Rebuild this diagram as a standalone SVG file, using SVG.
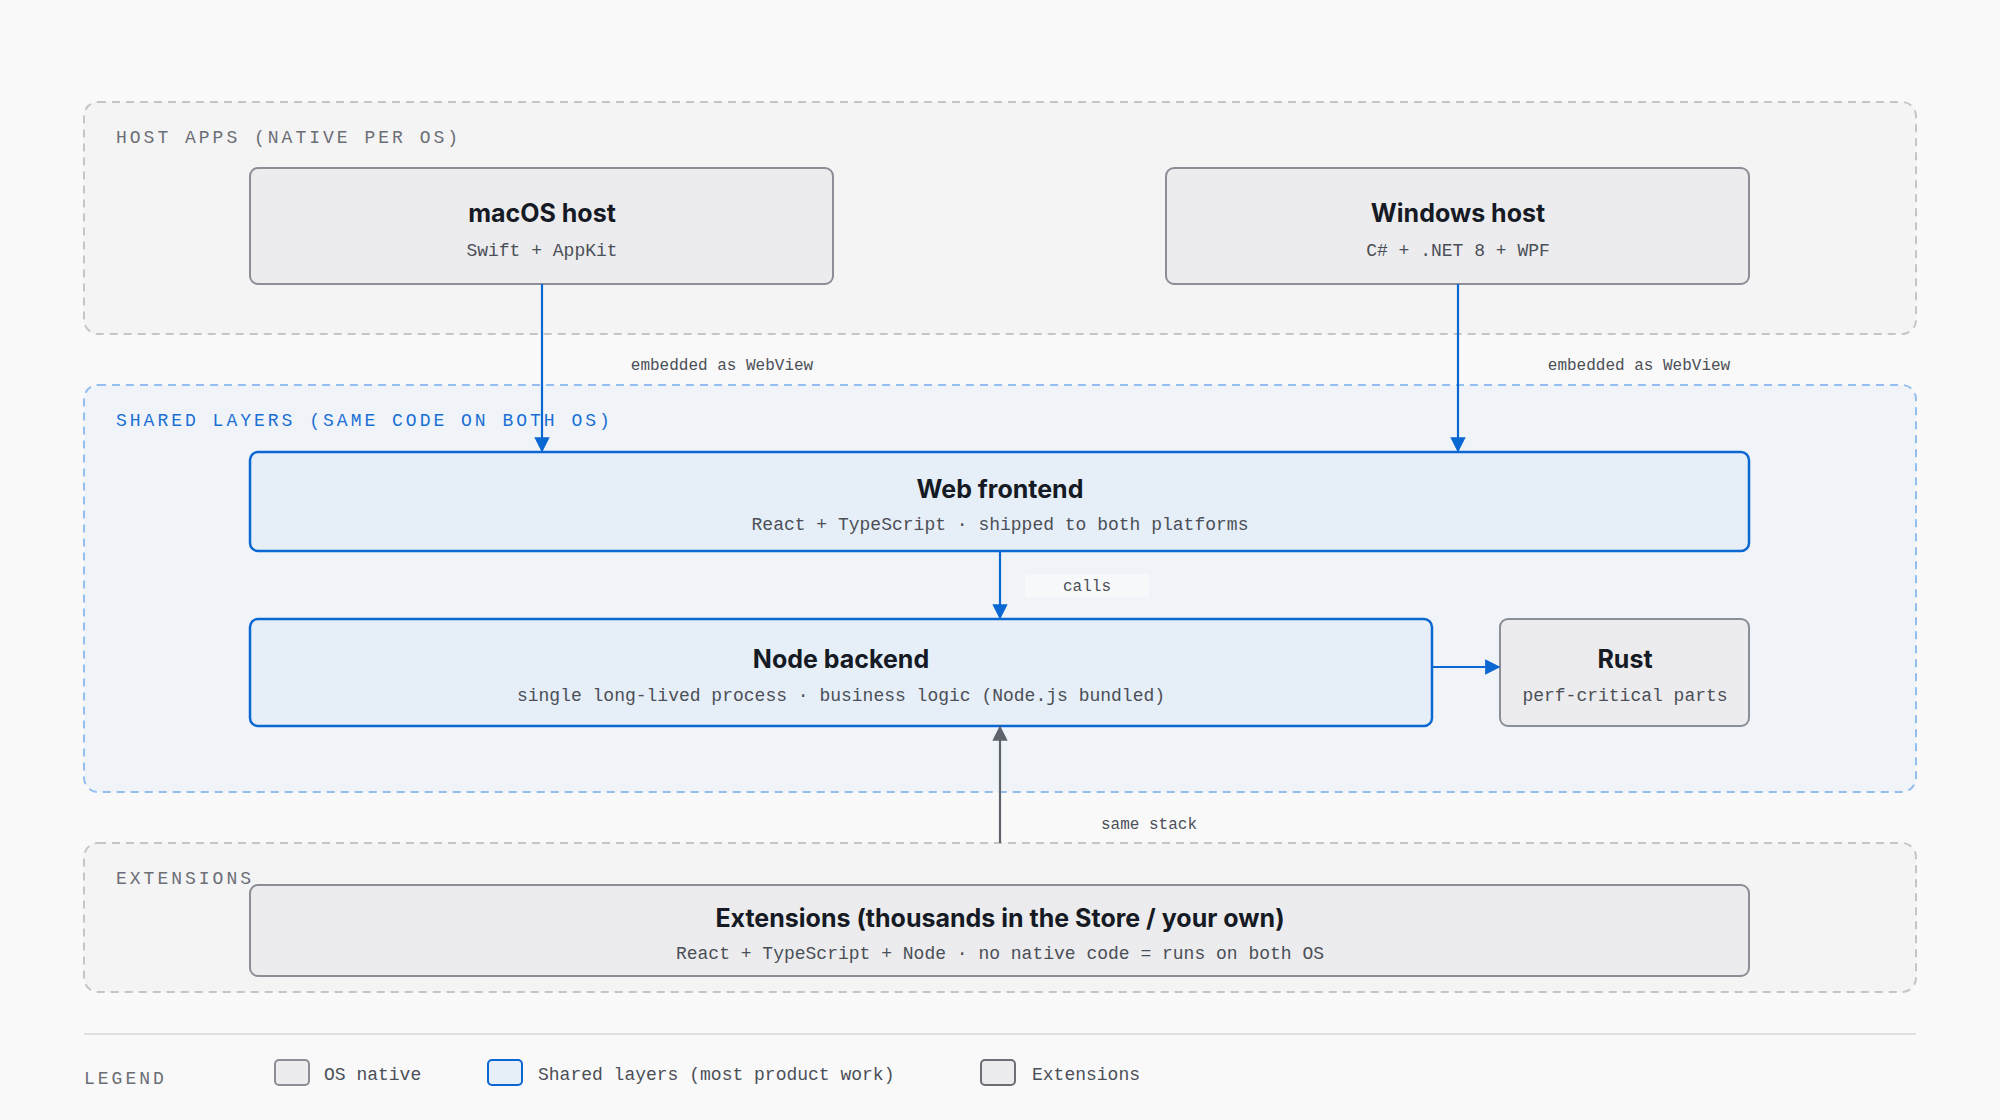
<svg xmlns="http://www.w3.org/2000/svg" width="2000" height="1120" viewBox="0 0 2000 1120">
<style>
.grp{fill:#f4f4f5;stroke:#c4c5c9;stroke-width:2;stroke-dasharray:8 6}
.grpb{fill:#f0f4f9;stroke:#94bdf0;stroke-width:2;stroke-dasharray:8 6}
.gl{font-family:"Liberation Mono",monospace;font-size:18px;letter-spacing:3px;fill:#6b6e75}
.gb{fill:#1a6fd4}
.nb{fill:#ececee;stroke:#8b8e96;stroke-width:2}
.bb{fill:#e6eef7;stroke:#0b67d1;stroke-width:2.5}
.t{font-family:"Inter","Liberation Sans",sans-serif;font-size:25px;font-weight:700;fill:#151a24;text-anchor:middle}
.s{font-family:"Liberation Mono",monospace;font-size:18px;fill:#4b4f57;text-anchor:middle}
.el{font-family:"Liberation Mono",monospace;font-size:16px;fill:#4b4f57;text-anchor:middle}
.cb{stroke:#0b67d1;stroke-width:2.2;fill:none}
.cg{stroke:#5f636b;stroke-width:2.2;fill:none}
.lg{font-family:"Liberation Mono",monospace;font-size:18px;fill:#4b4f57}
</style>
<defs>
<marker id="ab" viewBox="0 0 10 10" refX="9" refY="5" markerWidth="7" markerHeight="7" orient="auto"><path d="M0,0L10,5L0,10z" fill="#0b67d1"/></marker>
<marker id="ag" viewBox="0 0 10 10" refX="9" refY="5" markerWidth="7" markerHeight="7" orient="auto"><path d="M0,0L10,5L0,10z" fill="#5f636b"/></marker>
</defs>
<rect width="2000" height="1120" fill="#f9f9f9"/>
<g id="host-apps"><rect class="grp" x="84" y="102" width="1832" height="232" rx="14"/><text class="gl" x="116" y="143">HOST APPS (NATIVE PER OS)</text></g>
<g id="shared"><rect class="grpb" x="84" y="385" width="1832" height="407" rx="14"/><text class="gl gb" x="116" y="426">SHARED LAYERS (SAME CODE ON BOTH OS)</text></g>
<g id="extensions-group"><rect class="grp" x="84" y="843" width="1832" height="149" rx="14"/><text class="gl" x="116" y="884">EXTENSIONS</text></g>
<g id="macos"><rect class="nb" x="250" y="168" width="583" height="116" rx="8"/><text class="t" x="542" y="222">macOS host</text><text class="s" x="542" y="256">Swift + AppKit</text></g>
<g id="windows"><rect class="nb" x="1166" y="168" width="583" height="116" rx="8"/><text class="t" x="1458" y="222">Windows host</text><text class="s" x="1458" y="256">C# + .NET 8 + WPF</text></g>
<g id="web"><rect class="bb" x="250" y="452" width="1499" height="99" rx="8"/><text class="t" x="1000" y="498">Web frontend</text><text class="s" x="1000" y="530">React + TypeScript · shipped to both platforms</text></g>
<g id="node"><rect class="bb" x="250" y="619" width="1182" height="107" rx="8"/><text class="t" x="841" y="668">Node backend</text><text class="s" x="841" y="701">single long-lived process · business logic (Node.js bundled)</text></g>
<g id="rust"><rect class="nb" x="1500" y="619" width="249" height="107" rx="8"/><text class="t" x="1625" y="668">Rust</text><text class="s" x="1625" y="701">perf-critical parts</text></g>
<g id="ext"><rect class="nb" x="250" y="885" width="1499" height="91" rx="8"/><text class="t" x="1000" y="927">Extensions (thousands in the Store / your own)</text><text class="s" x="1000" y="959">React + TypeScript + Node · no native code = runs on both OS</text></g>
<g id="connectors">
<path class="cb" d="M542,284V451" marker-end="url(#ab)"/>
<text class="el" x="722" y="370">embedded as WebView</text>
<path class="cb" d="M1458,284V451" marker-end="url(#ab)"/>
<text class="el" x="1639" y="370">embedded as WebView</text>
<path class="cb" d="M1000,551V618" marker-end="url(#ab)"/>
<rect x="1025" y="574" width="124" height="23" fill="#f7f8fa"/>
<text class="el" x="1087" y="591">calls</text>
<path class="cb" d="M1432,667H1499" marker-end="url(#ab)"/>
<path class="cg" d="M1000,843V727" marker-end="url(#ag)"/>
<text class="el" x="1149" y="829">same stack</text>
</g>
<g id="legend">
<line x1="84" y1="1034" x2="1916" y2="1034" stroke="#dedfe2" stroke-width="2"/>
<text class="gl" x="84" y="1084">LEGEND</text>
<rect x="275" y="1060" width="34" height="25" rx="4" fill="#ececee" stroke="#8b8e96" stroke-width="2"/>
<text class="lg" x="324" y="1080">OS native</text>
<rect x="488" y="1060" width="34" height="25" rx="4" fill="#e6eef7" stroke="#0b67d1" stroke-width="2"/>
<text class="lg" x="538" y="1080">Shared layers (most product work)</text>
<rect x="981" y="1060" width="34" height="25" rx="4" fill="#ececee" stroke="#6b6e75" stroke-width="2"/>
<text class="lg" x="1032" y="1080">Extensions</text>
</g>
</svg>
